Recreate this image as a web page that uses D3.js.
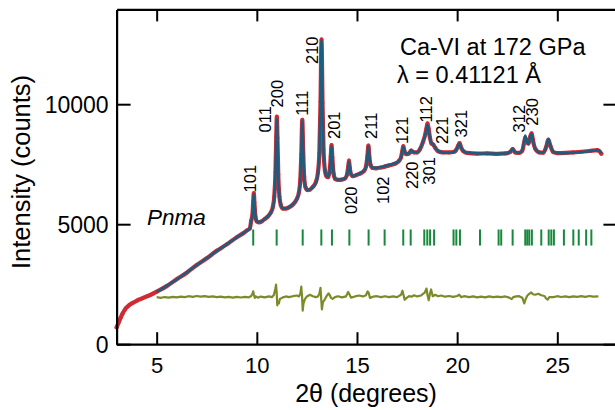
<!DOCTYPE html>
<html>
<head>
<meta charset="utf-8">
<title>Ca-VI at 172 GPa - Rietveld fit</title>
<script src="https://d3js.org/d3.v7.min.js"></script>
<style>
body { margin: 0; background: #fff; }
text { font-family: "Liberation Sans", Arial, Helvetica, sans-serif; fill: #000; }
</style>
</head>
<body>
<div id="my_dataviz"></div>
<script>

// profile grid (2theta, degrees)
var twoTheta = [
  3.0, 3.1, 3.2, 3.3, 3.4, 3.5, 3.6, 3.8, 4.0, 4.25, 4.5, 4.75,
  5.0, 5.5, 6.0, 6.5, 7.0, 7.5, 8.0, 8.5, 9.0, 9.3, 9.5, 9.65,
  9.72, 9.78, 9.82, 9.85, 9.88, 9.93, 10.0, 10.1, 10.25, 10.4,
  10.55, 10.7, 10.8, 10.87, 10.93, 10.97, 11.0, 11.03, 11.07, 11.13,
  11.2, 11.3, 11.45, 11.6, 11.8, 12.0, 12.1, 12.17, 12.22, 12.27,
  12.31, 12.36, 12.43, 12.52, 12.65, 12.8, 12.95, 13.05, 13.12, 13.18,
  13.23, 13.28, 13.33, 13.4, 13.48, 13.56, 13.64, 13.69, 13.73, 13.77,
  13.83, 13.92, 14.05, 14.25, 14.4, 14.5, 14.56, 14.6, 14.64, 14.7,
  14.8, 15.0, 15.2, 15.35, 15.45, 15.52, 15.57, 15.62, 15.68, 15.78,
  15.95, 16.2, 16.38, 16.6, 16.9, 17.1, 17.2, 17.26, 17.31, 17.36,
  17.44, 17.55, 17.65, 17.7, 17.76, 17.85, 18.0, 18.15, 18.3, 18.4,
  18.47, 18.52, 18.57, 18.64, 18.72, 18.8, 18.9, 19.05, 19.3, 19.6,
  19.85, 19.95, 20.05, 20.12, 20.2, 20.3, 20.5, 21.0, 21.5, 22.0,
  22.4, 22.65, 22.77, 22.9, 23.1, 23.25, 23.34, 23.4, 23.47, 23.56,
  23.64, 23.72, 23.8, 23.9, 24.1, 24.3, 24.45, 24.55, 24.65, 24.8,
  25.0, 25.4, 25.8, 26.2, 26.6, 27.0, 27.1, 27.2
];

// observed intensity (counts)
var observed = [
  700, 900, 1100, 1280, 1420, 1530, 1610, 1720, 1810, 1900, 1990, 2080,
  2190, 2420, 2710, 2980, 3300, 3580, 3890, 4160, 4460, 4610, 4740, 4820,
  5150, 5380, 5950, 6300, 5900, 5330, 5110, 5080, 5120, 5220,
  5320, 5490, 5720, 6150, 7150, 8650, 9480, 8600, 7080, 6140,
  5790, 5650, 5650, 5700, 5820, 6060, 6320, 6850, 7900, 9350,
  8200, 7000, 6540, 6420, 6440, 6560, 6760, 7150, 7950, 10100,
  12700, 10050, 8100, 7250, 6990, 6960, 7240, 7820, 8300, 7780,
  7120, 6880, 6850, 6860, 6900, 7060, 7380, 7650, 7360, 7080,
  7000, 7060, 7130, 7220, 7400, 7830, 8280, 7800, 7460, 7340,
  7330, 7360, 7400, 7450, 7520, 7640, 7790, 8030, 8250, 8080,
  7920, 7930, 8000, 8070, 8030, 7990, 7990, 8130, 8440, 8720,
  9000, 9200, 9000, 8620, 8360, 8320, 8190, 8040, 7990, 7990,
  8020, 8090, 8270, 8380, 8190, 8050, 7970, 7940, 7950, 7930,
  7950, 8010, 8130, 7990, 7970, 8060, 8380, 8600, 8420, 8360,
  8630, 8790, 8430, 8140, 7990, 7980, 8230, 8520, 8280, 8000,
  7960, 7970, 7990, 8020, 8050, 8090, 8040, 7940
];

// calculated profile, fit range starts at 5 deg
var calculated = [
  null, null, null, null, null, null, null, null, null, null, null, null,
  2180, 2430, 2700, 2990, 3290, 3590, 3880, 4170, 4450, 4620, 4730, 4830,
  5140, 5360, 5900, 6260, 5920, 5340, 5130, 5090, 5130, 5230,
  5330, 5480, 5700, 6100, 7100, 8590, 9380, 8610, 7110, 6160,
  5810, 5660, 5660, 5710, 5830, 6050, 6300, 6810, 7870, 9300,
  8220, 7040, 6560, 6430, 6450, 6550, 6730, 7100, 7880, 10060,
  12650, 10080, 8150, 7290, 7010, 6975, 7225, 7790, 8270, 7790,
  7150, 6895, 6860, 6870, 6910, 7050, 7350, 7600, 7370, 7100,
  7010, 7070, 7140, 7230, 7390, 7800, 8250, 7820, 7480, 7360,
  7350, 7380, 7420, 7470, 7540, 7660, 7800, 8020, 8220, 8100,
  7940, 7950, 8010, 8080, 8040, 8000, 8000, 8150, 8450, 8700,
  8950, 9130, 8950, 8600, 8380, 8330, 8200, 8050, 7990, 7980,
  8010, 8080, 8250, 8370, 8200, 8060, 7980, 7950, 7940, 7940,
  7950, 8020, 8150, 8010, 7980, 8080, 8450, 8690, 8450, 8350,
  8600, 8760, 8420, 8150, 8000, 7990, 8250, 8550, 8300, 8030,
  7970, 7960, 7980, 8010, 8040, 8080, 8060, 7960
];

// difference curve (obs - calc, plotted with its offset)
var diffTheta = [
  5.0, 5.2, 5.4, 5.6, 5.8, 6.0, 6.2, 6.4, 6.6, 6.8, 7.0, 7.2, 7.4, 7.6, 7.8,
  8.0, 8.2, 8.4, 8.6, 8.8, 9.0, 9.2, 9.4, 9.6, 9.72, 9.78, 9.82, 9.86, 9.9, 9.95,
  10.05, 10.2, 10.4, 10.6, 10.75, 10.85, 10.92, 10.96, 10.99, 11.02, 11.05, 11.1, 11.15,
  11.3, 11.45, 11.6, 11.8, 12.0, 12.1, 12.17, 12.22, 12.26, 12.29, 12.33, 12.4, 12.5,
  12.65, 12.8, 12.95, 13.05, 13.12, 13.18, 13.22, 13.25, 13.3, 13.38, 13.48, 13.58,
  13.64, 13.7, 13.78, 13.9, 14.05, 14.25, 14.45, 14.56, 14.62, 14.7, 14.9, 15.1,
  15.3, 15.45, 15.53, 15.58, 15.65, 15.8, 16.0, 16.2, 16.4, 16.6, 16.8, 17.0,
  17.2, 17.27, 17.32, 17.38, 17.48, 17.6, 17.72, 17.85, 18.0, 18.2, 18.38, 18.47,
  18.52, 18.58, 18.64, 18.7, 18.78, 18.9, 19.05, 19.2, 19.4, 19.6, 19.8, 20.0,
  20.1, 20.2, 20.35, 20.6, 20.8, 21.0, 21.2, 21.4, 21.6, 21.8, 22.0, 22.2, 22.4,
  22.6, 22.72, 22.8, 22.95, 23.1, 23.25, 23.35, 23.42, 23.5, 23.6, 23.7, 23.78,
  23.9, 24.05, 24.2, 24.35, 24.45, 24.52, 24.6, 24.8, 25.0, 25.2, 25.4, 25.6,
  25.8, 26.0, 26.2, 26.4, 26.6, 26.8, 27.05
];
var difference = [
  1960, 1930, 1965, 1940, 1975, 1950, 1985, 1960, 2000, 1975, 2010, 1980, 2005, 1970, 1995,
  1960, 1985, 1950, 1975, 1940, 1970, 1945, 1975, 1950, 2010, 2100, 2200, 2050, 1930, 1990,
  1940, 1985, 1950, 1990, 1960, 2050, 2300, 2480, 2150, 1620, 1780, 1700, 1880,
  1950, 1990, 1960, 2000, 2030, 1990, 2100, 2400, 1950, 1400, 1700, 1880, 1990,
  2060, 2000, 1960, 1990, 2100, 2350, 1800, 1450, 1750, 1850, 2000, 2120,
  2050, 1930, 1890, 1960, 2000, 1950, 1990, 2180, 2080, 1940, 1990, 2030,
  1990, 2040, 2200, 2150, 1930, 1980, 2000, 1960, 2000, 1960, 1990, 1960,
  2060, 2230, 2060, 1850, 1930, 2000, 1980, 2040, 1990, 2030, 2150, 2320,
  2050, 1830, 2100, 2280, 2000, 2060, 2000, 2030, 1980, 2010, 1970, 2010,
  2060, 1960, 2000, 1960, 1990, 1950, 1980, 1950, 1990, 1960, 1985, 1960, 1990,
  1940, 1880, 1960, 1990, 2000, 1940, 1700, 1880, 2020, 2100, 2160, 2080,
  2060, 2100, 2040, 2010, 1900, 1860, 1960, 1960, 2000, 1965, 1995, 1960,
  1990, 1970, 2000, 1975, 2010, 1980, 1995
];

// Pnma reflection positions
var braggTheta = [
  9.82, 10.99, 12.29, 13.22, 13.75, 14.62, 15.58, 16.38, 17.31, 17.68,
  18.36, 18.51, 18.65, 18.85, 19.82, 19.96, 20.14, 21.14, 22.07, 22.20,
  22.77, 23.40, 23.50, 23.60, 23.73, 24.20, 24.57, 24.70, 24.83, 25.33,
  25.80, 26.07, 26.44, 26.70
];

// hkl labels: text, 2theta of the label, intensity where the label starts
var hklText  = ["101", "011", "200", "111", "210", "201", "020", "211", "102",
                "121", "220", "301", "112", "221", "321", "312", "230"];
var hklTheta = [9.96, 10.71, 11.32, 12.54, 13.07, 14.15, 14.98, 15.98, 16.61,
                17.53, 18.05, 18.89, 18.73, 19.54, 20.51, 23.39, 24.05];
var hklLevel = [6325, 8825, 9867, 9521, 11675, 8550, 5425, 8550, 5842,
                8342, 6467, 6646, 9242, 8342, 8617, 8825, 9104];

var xMajor = [5, 10, 15, 20, 25];
var yMajor = [0, 5000, 10000];

var width = 615, height = 410;

var svg = d3.select("#my_dataviz")
  .append("svg")
    .attr("width", width)
    .attr("height", height);

var x = d3.scaleLinear().domain([3, 28]).range([116.6, 617.4]);
var y = d3.scaleLinear().domain([0, 13950]).range([344.2, 9.4]);

var profile = twoTheta.map(function(t, i) {
  return {t: t, obs: observed[i], calc: calculated[i]};
});

// observed: thick red band of points
var obsLine = d3.line()
  .x(function(d) { return x(d.t); })
  .y(function(d) { return y(d.obs); })
  .curve(d3.curveMonotoneX);

svg.append("path")
  .datum(profile)
  .attr("d", obsLine)
  .attr("fill", "none")
  .attr("stroke", "#d12b34")
  .attr("stroke-width", 4.2)
  .attr("stroke-linejoin", "round")
  .attr("stroke-linecap", "round");

svg.append("g")
  .selectAll("circle")
  .data(profile)
  .enter()
  .append("circle")
    .attr("cx", function(d) { return x(d.t); })
    .attr("cy", function(d) { return y(d.obs); })
    .attr("r", 2)
    .attr("fill", "#d12b34")
    .attr("fill-opacity", 0.8);

// calculated
var calcLine = d3.line()
  .defined(function(d) { return d.calc != null; })
  .x(function(d) { return x(d.t); })
  .y(function(d) { return y(d.calc); })
  .curve(d3.curveMonotoneX);

svg.append("path")
  .datum(profile)
  .attr("d", calcLine)
  .attr("fill", "none")
  .attr("stroke", "#1e5b7d")
  .attr("stroke-width", 2.6)
  .attr("stroke-linejoin", "round");

// difference
var diffLine = d3.line()
  .x(function(d, i) { return x(diffTheta[i]); })
  .y(function(d) { return y(d); });

svg.append("path")
  .datum(difference)
  .attr("d", diffLine)
  .attr("fill", "none")
  .attr("stroke", "#7c8b28")
  .attr("stroke-width", 2.2)
  .attr("stroke-linejoin", "round");

// reflection markers
svg.append("g")
  .selectAll("line")
  .data(braggTheta)
  .enter()
  .append("line")
    .attr("x1", function(d) { return x(d); })
    .attr("x2", function(d) { return x(d); })
    .attr("y1", y(4780))
    .attr("y2", y(4110))
    .attr("stroke", "#16893b")
    .attr("stroke-width", 2);

// hkl labels
svg.append("g")
  .selectAll("text")
  .data(hklText)
  .enter()
  .append("text")
    .attr("transform", function(d, i) {
      return "translate(" + x(hklTheta[i]) + "," + y(hklLevel[i]) + ") rotate(-90)";
    })
    .style("font-size", "16.5px")
    .text(function(d) { return d; });

// frame: ticks on all four sides, pointing inward
var gBottom = svg.append("g").attr("transform", "translate(0," + y(0) + ")");
gBottom.call(d3.axisBottom(x).tickValues(d3.range(3, 28, 1)).tickSizeInner(-5).tickSizeOuter(0).tickFormat(""));
gBottom.call(d3.axisBottom(x).tickValues(xMajor).tickSizeInner(-12).tickSizeOuter(0).tickPadding(13));

var gTop = svg.append("g").attr("transform", "translate(0," + y(13950) + ")");
gTop.call(d3.axisTop(x).tickValues(d3.range(3, 28, 1)).tickSizeInner(-5).tickSizeOuter(0).tickFormat(""));
gTop.call(d3.axisTop(x).tickValues(xMajor).tickSizeInner(-12).tickSizeOuter(0).tickFormat(""));

var gLeft = svg.append("g").attr("transform", "translate(" + x(3) + ",0)");
gLeft.call(d3.axisLeft(y).tickValues(d3.range(0, 14000, 1000)).tickSizeInner(-8).tickSizeOuter(0).tickFormat(""));
gLeft.call(d3.axisLeft(y).tickValues(yMajor).tickSizeInner(-14).tickSizeOuter(0).tickPadding(8).tickFormat(d3.format("d")));

var gRight = svg.append("g").attr("transform", "translate(" + x(28) + ",0)");
gRight.call(d3.axisRight(y).tickValues(d3.range(0, 14000, 1000)).tickSizeInner(-8).tickSizeOuter(0).tickFormat(""));
gRight.call(d3.axisRight(y).tickValues(yMajor).tickSizeInner(-14).tickSizeOuter(0).tickFormat(""));

svg.selectAll(".domain").attr("stroke-width", 2.2).attr("stroke", "#000");
svg.selectAll(".tick line").attr("stroke-width", 2).attr("stroke", "#000");
svg.selectAll(".tick text")
  .style("font-size", "22px")
  .style("font-family", "'Liberation Sans', Arial, sans-serif")
  .attr("fill", "#000");
gLeft.selectAll(".tick text").style("font-size", "23px").attr("dy", "0.38em");

// titles
svg.append("text")
  .attr("x", 366)
  .attr("y", 402)
  .attr("text-anchor", "middle")
  .style("font-size", "25px")
  .text("2\u03b8 (degrees)");

svg.append("text")
  .attr("transform", "translate(30,172) rotate(-90)")
  .attr("text-anchor", "middle")
  .style("font-size", "25.5px")
  .text("Intensity (counts)");

svg.append("text")
  .attr("x", 400)
  .attr("y", 55)
  .style("font-size", "23.5px")
  .text("Ca-VI at 172 GPa");

svg.append("text")
  .attr("x", 397)
  .attr("y", 83)
  .style("font-size", "23.5px")
  .text("\u03bb = 0.41121 \u00c5");

svg.append("text")
  .attr("x", 147)
  .attr("y", 225)
  .style("font-size", "22.5px")
  .style("font-style", "italic")
  .text("Pnma");

</script>
</body>
</html>
